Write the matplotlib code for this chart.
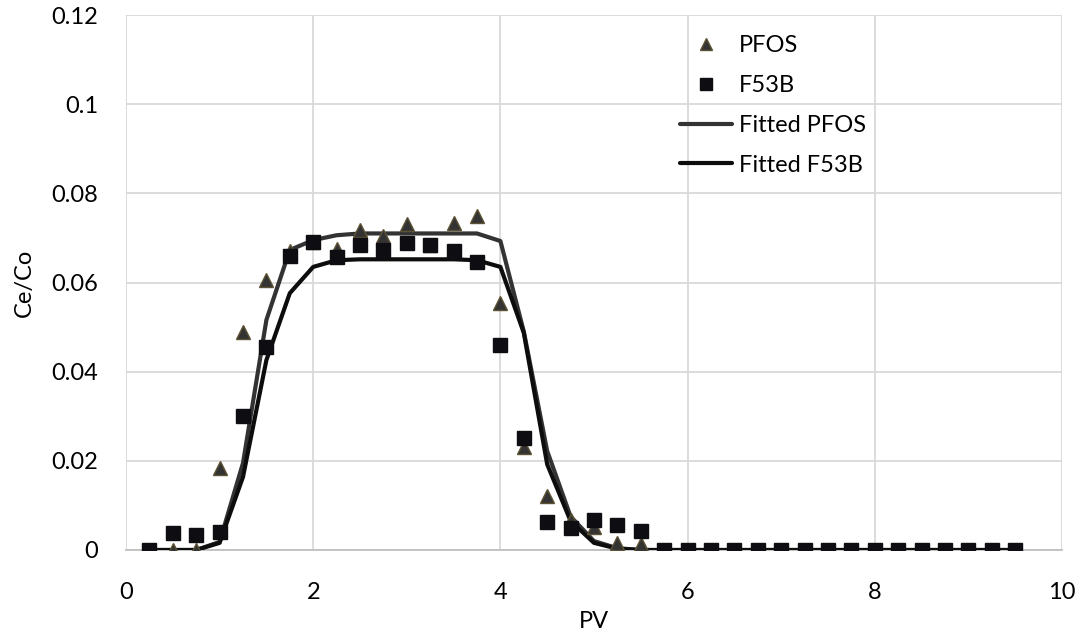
import numpy as np
import matplotlib
matplotlib.use("Agg")
import matplotlib.pyplot as plt
from matplotlib.lines import Line2D

pv = [0.25, 0.5, 0.75, 1.0, 1.25, 1.5, 1.75, 2.0, 2.25, 2.5, 2.75, 3.0, 3.25, 3.5,
      3.75, 4.0, 4.25, 4.5, 4.75, 5.0, 5.25, 5.5, 5.75, 6.0, 6.25, 6.5, 6.75, 7.0,
      7.25, 7.5, 7.75, 8.0, 8.25, 8.5, 8.75, 9.0, 9.25, 9.5]

pfos = [0.0, 0.0, 0.0, 0.0185, 0.049, 0.0605, 0.067, 0.069, 0.0675, 0.0717, 0.0705, 0.0732,
        0.0685, 0.0733, 0.075, 0.0555, 0.023, 0.0122, 0.0067, 0.0052, 0.0016, 0.0013,
        0, 0, 0, 0, 0, 0, 0, 0, 0, 0, 0, 0, 0, 0, 0, 0]

f53b = [0.0, 0.0038, 0.0033, 0.004, 0.030, 0.0455, 0.066, 0.069, 0.0658, 0.0683, 0.0672, 0.0688,
        0.0685, 0.067, 0.0646, 0.046, 0.0251, 0.0063, 0.0049, 0.0067, 0.0056, 0.0043,
        0, 0, 0, 0, 0, 0, 0, 0, 0, 0, 0, 0, 0, 0, 0, 0]

fit_pfos = [0.0, 0.0, 0.0, 0.0018, 0.0195, 0.0516, 0.0673, 0.0695, 0.0706, 0.071, 0.071, 0.071,
            0.071, 0.071, 0.071, 0.0693, 0.049, 0.0222, 0.0075, 0.002, 0.0004, 0.0,
            0, 0, 0, 0, 0, 0, 0, 0, 0, 0, 0, 0, 0, 0, 0, 0]

fit_f53b = [0.0, 0.0, 0.0, 0.0016, 0.0164, 0.0426, 0.0576, 0.0635, 0.065, 0.0652, 0.0652, 0.0652,
            0.0652, 0.0652, 0.065, 0.0635, 0.0487, 0.0192, 0.0065, 0.0016, 0.0003, 0.0,
            0, 0, 0, 0, 0, 0, 0, 0, 0, 0, 0, 0, 0, 0, 0, 0]

x_ticks = [0, 2, 4, 6, 8, 10]
y_ticks = [0, 0.02, 0.04, 0.06, 0.08, 0.1, 0.12]
y_tick_labels = ["0", "0.02", "0.04", "0.06", "0.08", "0.1", "0.12"]

plt.rcParams['font.family'] = ['Lato', 'DejaVu Sans']
FS = 17

fig = plt.figure(figsize=(10.85, 6.34), dpi=100)
ax = fig.add_axes([126/1085, 84/634, 936/1085, 535/634])

ax.plot(pv, fit_pfos, color='#333333', lw=3, zorder=3, solid_capstyle='round')
ax.plot(pv, fit_f53b, color='#0d0d0d', lw=3, zorder=3, solid_capstyle='round')
ax.plot(pv, pfos, linestyle='none', marker='^', markersize=10, markerfacecolor='#333333',
        markeredgecolor='#5c5233', markeredgewidth=1, zorder=4)
ax.plot(pv, f53b, linestyle='none', marker='s', markersize=10.5, markerfacecolor='#0d0d12',
        markeredgecolor='#0d0d12', zorder=5)

ax.set_xlim(0, 10)
ax.set_ylim(0, 0.12)
ax.set_xticks(x_ticks)
ax.set_yticks(y_ticks)
ax.set_yticklabels(y_tick_labels)
ax.grid(True, color='#d9d9d9', lw=1.3, zorder=0)
ax.set_axisbelow(True)
for s in ['top', 'right', 'left']:
    ax.spines[s].set_visible(False)
ax.spines['bottom'].set_color('#bfbfbf')
ax.spines['bottom'].set_linewidth(1.3)
ax.tick_params(axis='y', length=0, labelsize=FS, pad=20, colors='black')
ax.tick_params(axis='x', length=0, labelsize=FS, pad=23, colors='black')
ax.set_xlabel('PV', fontsize=FS, labelpad=6)
ax.set_ylabel('Ce/Co', fontsize=FS, labelpad=12)

handles = [
    Line2D([], [], linestyle='none', marker='^', markersize=9, markerfacecolor='#333333',
           markeredgecolor='#5c5233'),
    Line2D([], [], linestyle='none', marker='s', markersize=9, markerfacecolor='#0d0d12',
           markeredgecolor='#0d0d12'),
    Line2D([], [], color='#333333', lw=3, solid_capstyle='round'),
    Line2D([], [], color='#0d0d0d', lw=3, solid_capstyle='round'),
]
labels = ['PFOS', 'F53B', 'Fitted PFOS', 'Fitted F53B']
leg = ax.legend(handles, labels, loc='upper left', bbox_to_anchor=(554/936, 1 - 20/535),
                frameon=False, fontsize=FS, handlelength=2.2, handletextpad=0.3,
                labelspacing=0.8, borderaxespad=0, borderpad=0)

fig.savefig('out.png', dpi=100)
